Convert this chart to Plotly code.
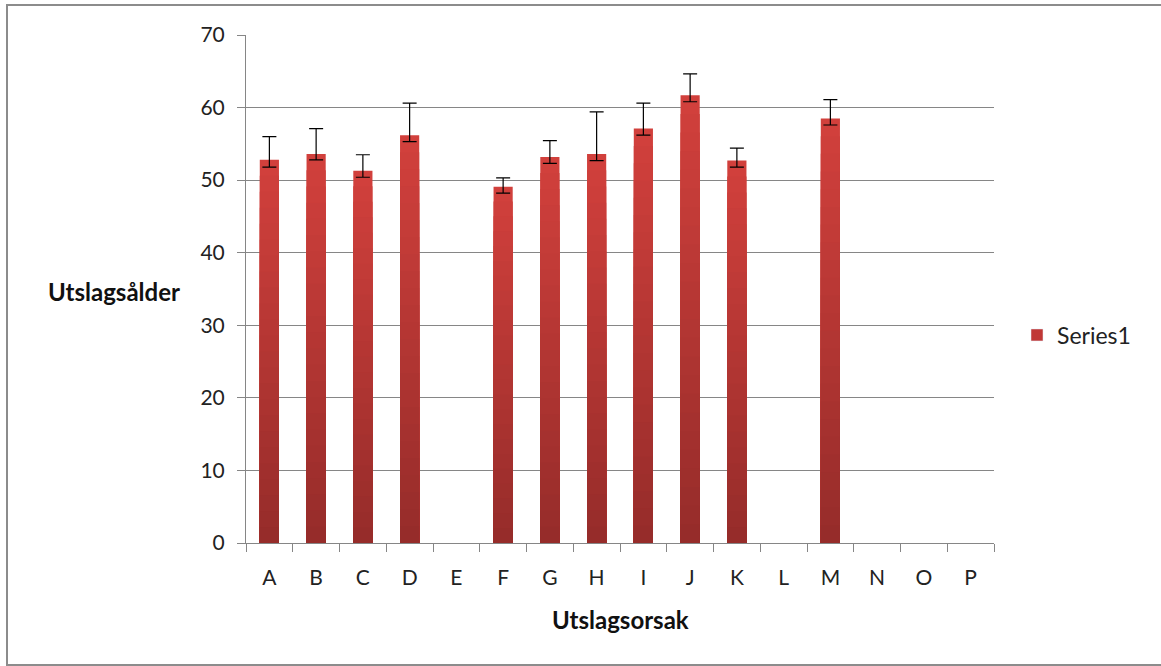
import plotly.graph_objects as go

categories = list("ABCDEFGHIJKLMNOP")
values = [52.8, 53.6, 51.3, 56.2, None, 49.1, 53.2, 53.6, 57.1, 61.7, 52.7, None, 58.5, None, None, None]
err_plus = [3.2, 3.5, 2.2, 4.4, None, 1.2, 2.25, 5.8, 3.5, 2.95, 1.7, None, 2.6, None, None, None]
err_minus = [1.0, 0.8, 0.9, 0.9, None, 0.9, 0.9, 0.9, 0.9, 0.9, 0.9, None, 0.9, None, None, None]
y_ticks = [0, 10, 20, 30, 40, 50, 60, 70]

# plot-area geometry (pixels)
W, H = 1161, 666
L, R, T, B = 246, 167, 35, 123
pw, ph = W - L - R, H - T - B

def px_x(x):
    return (x - L) / pw

def px_y(y):
    return (H - B - y) / ph

fig = go.Figure()

# vertical gradient by overlaying progressively shorter, lighter bars
top_c = (209, 64, 60)
bot_c = (150, 44, 42)
N = 24
for k in range(N):
    f = 1 - k / N
    t = k / (N - 1)
    c = tuple(round(bot_c[i] + (top_c[i] - bot_c[i]) * (1 - t)) for i in range(3))
    ys = [None if v is None else v * f for v in values]
    fig.add_trace(go.Bar(
        x=categories, y=ys,
        marker=dict(color="rgb(%d,%d,%d)" % c, line=dict(width=0)),
        showlegend=False, hoverinfo="skip",
    ))

fig.add_trace(go.Bar(
    x=categories, y=values, name="Series1",
    marker=dict(color="rgba(0,0,0,0)", line=dict(width=0)),
    error_y=dict(type="data", array=err_plus, arrayminus=err_minus, symmetric=False,
                 color="black", thickness=1.2, width=7),
    showlegend=False,
))
# legend entry
fig.add_trace(go.Bar(
    x=[None], y=[None], name="Series1",
    marker=dict(color="rgb(192,56,54)"), showlegend=True,
))

fig.update_layout(
    width=W, height=H,
    margin=dict(l=L, r=R, t=T, b=B),
    paper_bgcolor="white", plot_bgcolor="white",
    barmode="overlay", bargap=0.59,
    font=dict(family="Lato, Open Sans, sans-serif", size=21, color="#222222"),
    showlegend=True,
    legend=dict(x=px_x(1017), y=px_y(335), xanchor="left", yanchor="middle",
                font=dict(size=23), bgcolor="rgba(0,0,0,0)", itemwidth=30),
    xaxis=dict(
        type="category", categoryorder="array", categoryarray=categories,
        range=[-0.5, 15.5],
        showline=True, linecolor="#868686", linewidth=1,
        ticks="outside", ticklen=8, tickcolor="#868686", tickson="boundaries",
        ticklabelstandoff=16, showgrid=False,
    ),
    yaxis=dict(
        range=[0, 70], tickvals=y_ticks,
        showline=True, linecolor="#868686", linewidth=1,
        ticks="outside", ticklen=8, tickcolor="#868686",
        ticklabelstandoff=8,
        showgrid=True, gridcolor="#868686", gridwidth=1, zeroline=False,
    ),
    annotations=[
        dict(text="<b>Utslagsålder</b>", xref="paper", yref="paper",
             x=px_x(114), y=px_y(291), showarrow=False,
             font=dict(size=24, color="#111111"), xanchor="center", yanchor="middle"),
        dict(text="<b>Utslagsorsak</b>", xref="paper", yref="paper",
             x=px_x(620), y=px_y(619), showarrow=False,
             font=dict(size=24, color="#111111"), xanchor="center", yanchor="middle"),
    ],
    shapes=[
        dict(type="rect", xref="paper", yref="paper",
             x0=px_x(7), x1=px_x(1175), y0=px_y(665), y1=px_y(5),
             line=dict(color="#8c8c8c", width=2), fillcolor="rgba(0,0,0,0)", layer="below"),
    ],
)

fig.write_html("out.html", config={"displayModeBar": False},
               post_script="document.body.style.margin='0';")
